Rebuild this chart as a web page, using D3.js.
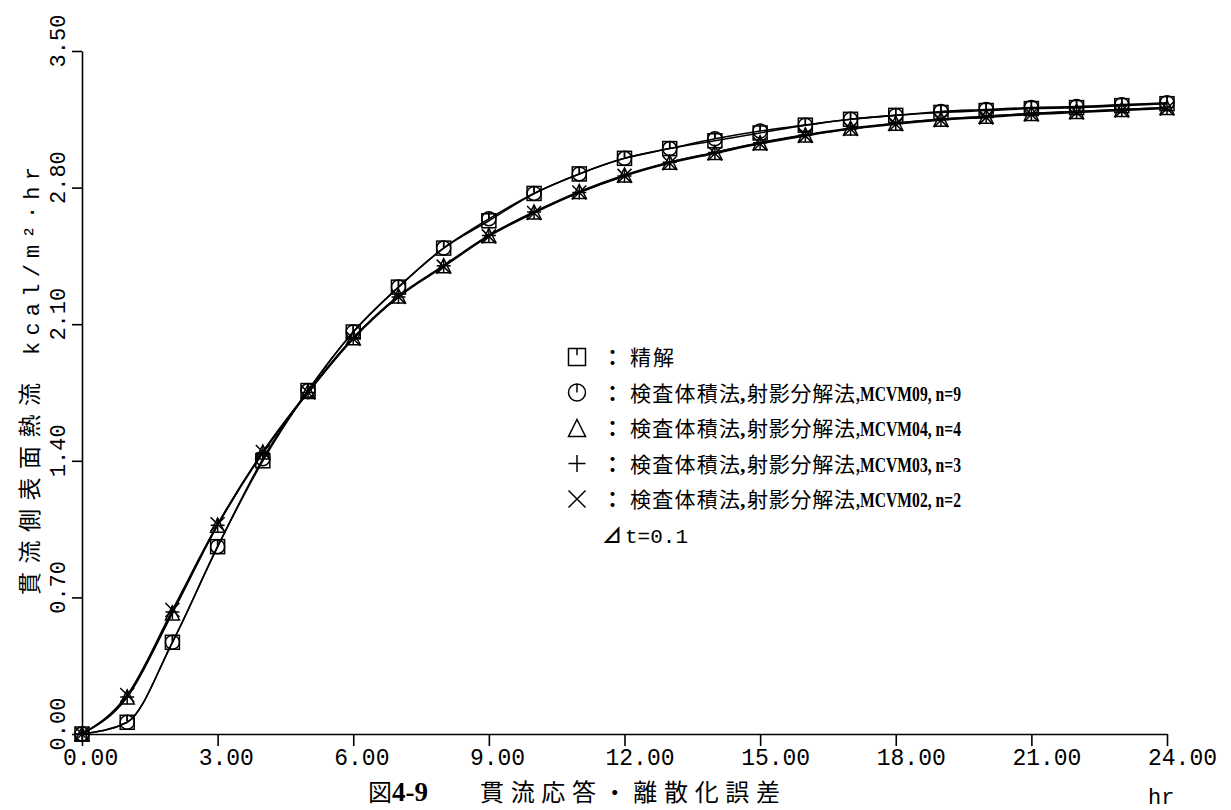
<!DOCTYPE html>
<html>
<head>
<meta charset="utf-8">
<script src="https://cdn.jsdelivr.net/npm/d3@7"></script>
<style>
  body { margin: 0; background: #fff; }
  svg { display: block; }
  .axis path, .axis line { stroke: #000; stroke-width: 1.6; }
  .ticklab { font-family: "Liberation Mono", "DejaVu Sans Mono", monospace; font-size: 24px; fill: #000; }
  .jp { font-family: "Noto Sans CJK JP", sans-serif; fill: #000; }
  .lat { font-family: "Liberation Serif", serif; font-weight: bold; fill: #000; }
</style>
</head>
<body>
<script>
// time steps (hr) and heat flux series
var hours = [0, 1, 2, 3, 4, 5, 6, 7, 8, 9, 10, 11, 12, 13, 14, 15, 16, 17, 18, 19, 20, 21, 22, 23, 24];

var exact  = [0, 0.06, 0.47, 0.96, 1.40, 1.76, 2.06, 2.29, 2.49, 2.63, 2.77, 2.87, 2.95, 3.00, 3.04, 3.08, 3.12, 3.15, 3.17, 3.185, 3.195, 3.205, 3.21, 3.22, 3.23];
var mcvm09 = [0, 0.06, 0.47, 0.96, 1.41, 1.76, 2.06, 2.29, 2.49, 2.64, 2.77, 2.87, 2.95, 3.00, 3.05, 3.09, 3.12, 3.15, 3.17, 3.19, 3.20, 3.21, 3.215, 3.225, 3.235];
var mcvm04 = [0, 0.19, 0.62, 1.07, 1.445, 1.755, 2.03, 2.245, 2.40, 2.555, 2.675, 2.78, 2.865, 2.93, 2.98, 3.03, 3.07, 3.105, 3.13, 3.15, 3.165, 3.18, 3.19, 3.20, 3.21];
var mcvm03 = [0, 0.19, 0.625, 1.07, 1.44, 1.75, 2.03, 2.24, 2.40, 2.555, 2.675, 2.775, 2.86, 2.93, 2.98, 3.03, 3.07, 3.10, 3.13, 3.15, 3.165, 3.18, 3.19, 3.20, 3.21];
var mcvm02 = [0, 0.20, 0.635, 1.075, 1.445, 1.75, 2.025, 2.24, 2.395, 2.55, 2.67, 2.775, 2.86, 2.925, 2.975, 3.025, 3.065, 3.10, 3.125, 3.145, 3.16, 3.175, 3.185, 3.195, 3.205];

var xTicks = [0, 3, 6, 9, 12, 15, 18, 21, 24];
var yTicks = [0, 0.70, 1.40, 2.10, 2.80, 3.50];

var series = [
  { name: "exact",  values: exact,  sym: "square" },
  { name: "mcvm09", values: mcvm09, sym: "circle" },
  { name: "mcvm04", values: mcvm04, sym: "triangle" },
  { name: "mcvm03", values: mcvm03, sym: "plus" },
  { name: "mcvm02", values: mcvm02, sym: "cross" }
];

var legendRows = [
  { sym: "square",   jp1: "精解" },
  { sym: "circle",   jp1: "検査体積法", jp2: "射影分解法", code: "MCVM09", n: "9" },
  { sym: "triangle", jp1: "検査体積法", jp2: "射影分解法", code: "MCVM04", n: "4" },
  { sym: "plus",     jp1: "検査体積法", jp2: "射影分解法", code: "MCVM03", n: "3" },
  { sym: "cross",    jp1: "検査体積法", jp2: "射影分解法", code: "MCVM02", n: "2" }
];

var W = 1231, H = 810;
var svg = d3.select("body").append("svg").attr("width", W).attr("height", H);

var x = d3.scaleLinear().domain([0, 24]).range([82, 1167]);
var y = d3.scaleLinear().domain([0, 3.5]).range([734, 51]);

// axes
var xAxis = d3.axisBottom(x).tickValues(xTicks).tickSize(12).tickSizeOuter(0).tickFormat("");
var yAxis = d3.axisLeft(y).tickValues(yTicks).tickSize(10).tickSizeOuter(0).tickFormat("");

svg.append("g").attr("class", "axis").attr("transform", "translate(0," + y(0) + ")").call(xAxis);
svg.append("g").attr("class", "axis").attr("transform", "translate(" + x(0) + ",0)").call(yAxis);

svg.selectAll(".xlab").data(xTicks).enter().append("text")
  .attr("class", "ticklab")
  .style("font-size", "23px")
  .attr("x", function(d){ return x(d) - 19; })
  .attr("y", 765)
  .text(function(d){ return d.toFixed(2); });

svg.selectAll(".ylab").data(yTicks).enter().append("text")
  .attr("class", "ticklab")
  .style("font-size", "22px")
  .attr("text-anchor", "middle")
  .attr("transform", function(d){ return "translate(65," + (y(d) - 10) + ") rotate(-90)"; })
  .text(function(d){ return d.toFixed(2); });

svg.append("text").attr("class", "ticklab")
  .style("font-size", "22px")
  .attr("x", 1148).attr("y", 804)
  .text("hr");

// y axis title
svg.append("text").attr("class", "jp")
  .style("font-size", "23px")
  .attr("transform", "translate(38,595) rotate(-90)")
  .attr("textLength", 212).attr("lengthAdjust", "spacing")
  .text("貫流側表面熱流");
svg.append("text").attr("class", "ticklab")
  .style("font-size", "22px")
  .attr("transform", "translate(39,355) rotate(-90)")
  .attr("textLength", 188).attr("lengthAdjust", "spacing")
  .text("kcal/m²·hr");

// curves
var line = d3.line()
  .x(function(d, i){ return x(hours[i]); })
  .y(function(d){ return y(d); })
  .curve(d3.curveMonotoneX);

svg.selectAll(".curve").data(series).enter().append("path")
  .attr("class", "curve")
  .attr("d", function(d){ return line(d.values); })
  .attr("fill", "none")
  .attr("stroke", "#000")
  .attr("stroke-width", 1.6);

function drawSym(g, sym, s) {
  var h = s / 2;
  if (sym === "square") {
    g.append("rect").attr("x", -h).attr("y", -h).attr("width", s).attr("height", s);
    g.append("line").attr("x1", 0).attr("y1", -h).attr("x2", 0).attr("y2", -h * 0.2);
  } else if (sym === "circle") {
    g.append("circle").attr("r", h);
    g.append("line").attr("x1", 0).attr("y1", -h).attr("x2", 0).attr("y2", 0);
  } else if (sym === "triangle") {
    g.append("path").attr("d", "M0," + (-h) + "L" + h + "," + h + "L" + (-h) + "," + h + "Z");
  } else if (sym === "plus") {
    g.append("path").attr("d", "M" + (-h) + ",0H" + h + "M0," + (-h) + "V" + h);
  } else {
    g.append("path").attr("d", "M" + (-h) + "," + (-h) + "L" + h + "," + h + "M" + h + "," + (-h) + "L" + (-h) + "," + h);
  }
  g.selectAll("*").attr("fill", "none").attr("stroke", "#000").attr("stroke-width", 1.5);
}

series.forEach(function(s){
  s.values.forEach(function(v, i){
    var g = svg.append("g").attr("transform", "translate(" + x(hours[i]) + "," + y(v) + ")");
    drawSym(g, s.sym, 14);
  });
});

// legend
var lx = 577, ly = 357, step = 35.5;
legendRows.forEach(function(r, i){
  var cy = ly + i * step;
  var g = svg.append("g").attr("transform", "translate(" + lx + "," + cy + ")");
  drawSym(g, r.sym, 17);
  svg.append("text").attr("class", "jp").style("font-size", "21px").style("font-weight", "bold")
    .attr("x", 602).attr("y", cy + 8).text("：");
  svg.append("text").attr("class", "jp").style("font-size", "21px")
    .attr("x", 630).attr("y", cy + 8)
    .attr("textLength", r.code ? 110 : 44).attr("lengthAdjust", "spacing")
    .text(r.jp1);
  if (r.code) {
    svg.append("text").attr("class", "lat").style("font-size", "22px")
      .attr("x", 740).attr("y", cy + 8).text(",");
    svg.append("text").attr("class", "jp").style("font-size", "21px")
      .attr("x", 747).attr("y", cy + 8)
      .attr("textLength", 108).attr("lengthAdjust", "spacing")
      .text(r.jp2);
    svg.append("text").attr("class", "lat").style("font-size", "21px")
      .attr("x", 856).attr("y", cy + 8)
      .attr("textLength", 105).attr("lengthAdjust", "spacingAndGlyphs")
      .text("," + r.code + ", n=" + r.n);
  }
});
var dt = svg.append("text").attr("x", 602).attr("y", ly + 5 * step + 8);
dt.append("tspan").attr("class", "jp").style("font-size", "20px").style("font-weight", "bold").text("⊿");
dt.append("tspan").attr("class", "ticklab").style("font-size", "21px").attr("dx", 3).text("t=0.1");

// caption
var cap = svg.append("text").attr("x", 368).attr("y", 801);
cap.append("tspan").attr("class", "jp").style("font-size", "24px").text("図");
cap.append("tspan").attr("class", "lat").style("font-size", "27px").text("4-9");
svg.append("text").attr("class", "jp").style("font-size", "24px")
  .attr("x", 480).attr("y", 801)
  .attr("textLength", 300).attr("lengthAdjust", "spacing")
  .text("貫流応答・離散化誤差");
</script>
</body>
</html>
